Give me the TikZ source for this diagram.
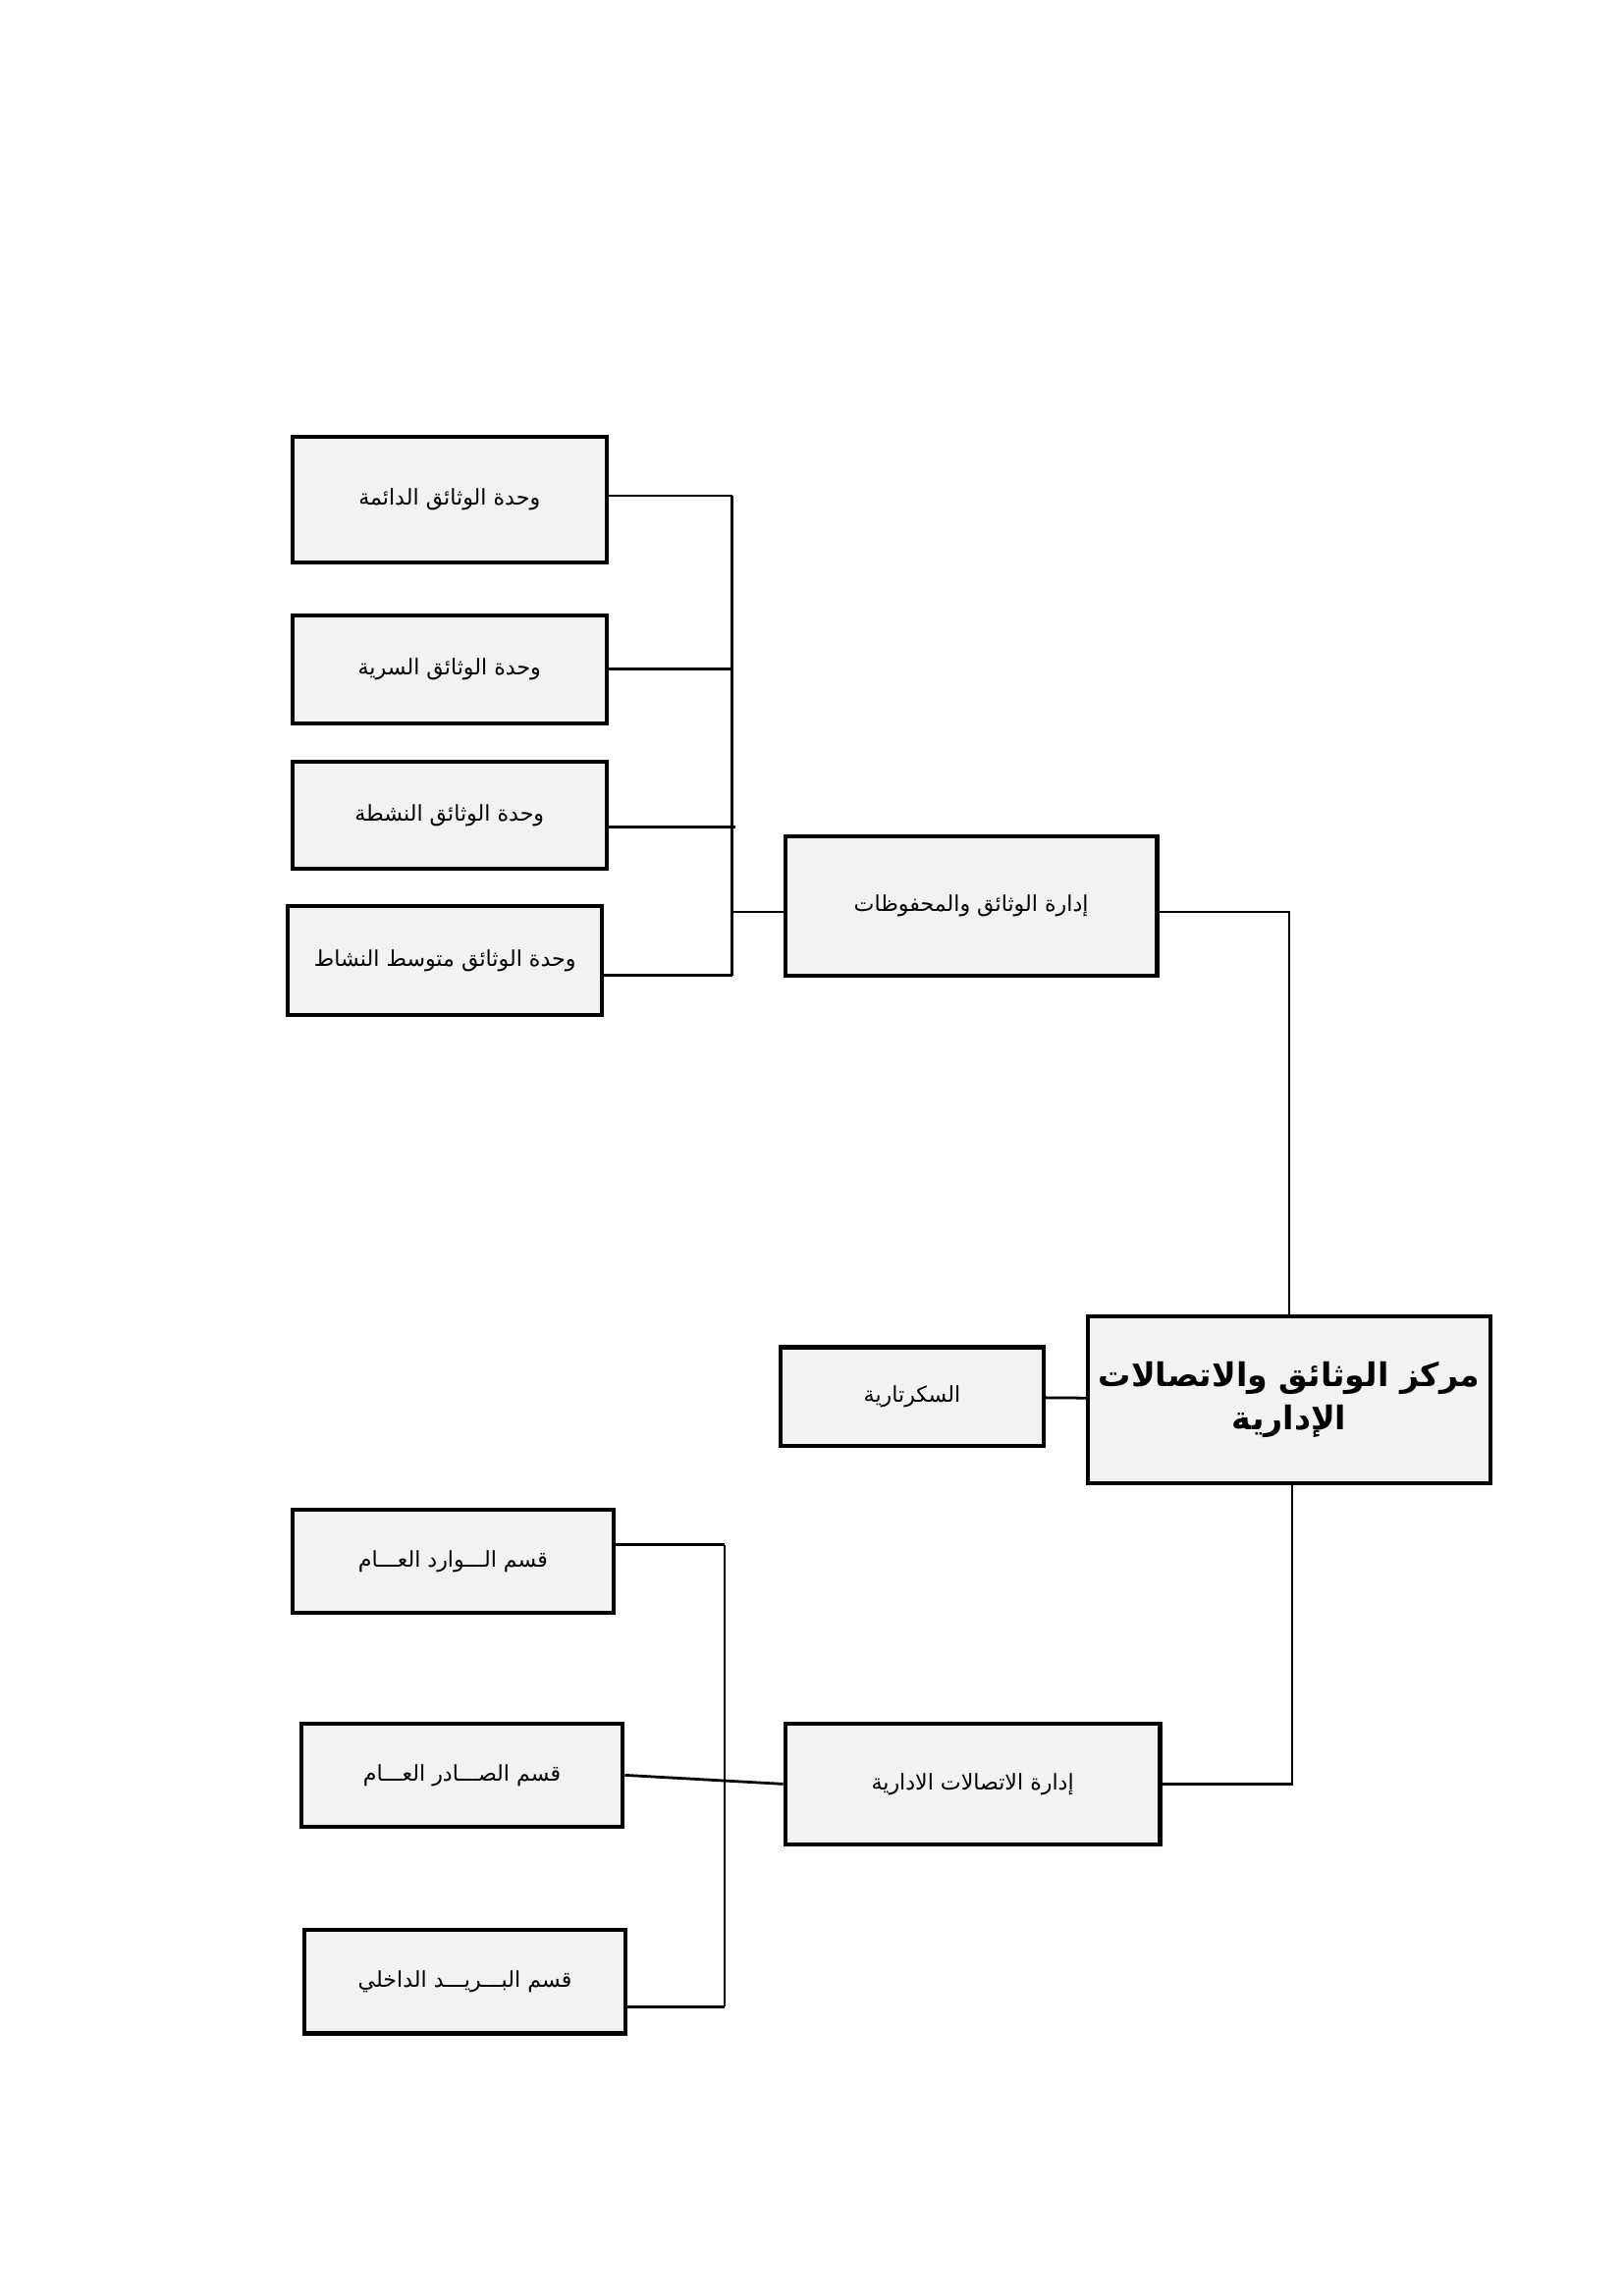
\documentclass[tikz,border=0pt]{standalone}
\usepackage{fontspec}
\newfontfamily\arabicfont[Script=Arabic]{DejaVu Sans}
\TeXXeTstate=1
\newcommand{\ar}[1]{\arabicfont\beginR #1\endR}
\tikzset{
  unitbox/.style={draw, line width=1.5pt, fill=black!5, inner sep=0pt, font=\footnotesize},
  link/.style={line width=1pt},
}
\begin{document}
\begin{tikzpicture}[x=0.0191cm, y=-0.0191cm]
  \useasboundingbox (0,0) rectangle (1100,1556);
  % units of the archives department
  \node (a1) [unitbox, minimum width=213*0.0191cm, minimum height=85*0.0191cm] at (304.5,338.5) {\ar{وحدة الوثائق الدائمة}};
  \node (a2) [unitbox, minimum width=213*0.0191cm, minimum height=73*0.0191cm] at (304.5,453.5) {\ar{وحدة الوثائق السرية}};
  \node (a3) [unitbox, minimum width=213*0.0191cm, minimum height=73*0.0191cm] at (304.5,552.5) {\ar{وحدة الوثائق النشطة}};
  \node (a4) [unitbox, minimum width=213*0.0191cm, minimum height=74*0.0191cm] at (301.5,651) {\ar{وحدة الوثائق متوسط النشاط}};
  \node (m1) [unitbox, minimum width=252*0.0191cm, minimum height=94*0.0191cm] at (658,614) {\ar{إدارة الوثائق والمحفوظات}};
  % centre
  \node (c) [unitbox, minimum width=273*0.0191cm, minimum height=113*0.0191cm, font=\large\bfseries, align=center] at (873.5,948.5) {\ar{مركز الوثائق والاتصالات}\\[2pt] \ar{الإدارية}};
  \node (s) [unitbox, minimum width=178*0.0191cm, minimum height=67*0.0191cm] at (618,946.5) {\ar{السكرتارية}};
  % communications department
  \node (m2) [unitbox, minimum width=254*0.0191cm, minimum height=82*0.0191cm] at (659,1209) {\ar{إدارة الاتصالات الادارية}};
  \node (b1) [unitbox, minimum width=218*0.0191cm, minimum height=70*0.0191cm] at (307,1058) {\ar{قسم الـــوارد العـــام}};
  \node (b2) [unitbox, minimum width=218*0.0191cm, minimum height=70*0.0191cm] at (313,1203) {\ar{قسم الصـــادر العـــام}};
  \node (b3) [unitbox, minimum width=218*0.0191cm, minimum height=70*0.0191cm] at (315,1343) {\ar{قسم البـــريـــد الداخلي}};
  % bus coordinates
  \coordinate (u1) at (496,336);
  \coordinate (u4) at (496,661);
  \coordinate (l1) at (491,1047);
  \coordinate (l3) at (491,1360);
  \draw [link] (u1) -- (u4);
  \draw [link] (a1.east |- u1) -- (u1);
  \draw [link] (a2.east) -- (a2.east -| u1);
  \draw [link] (a3.east) ++(0,8) -- ++(86,0);
  \draw [link] (a4.east) ++(0,10) -- (u4);
  \draw [link] (m1.west) ++(0,4) -- ++(-36,0);
  \draw [link] (m1.east) ++(0,4) -| (c.north);
  \draw [link] (s) -- (c);
  \draw [link] (c.south) ++(2,0) |- (m2.east);
  \draw [link] (l1) -- (l3);
  \draw [link] (b1.east |- l1) -- (l1);
  \draw [link] (b2.east) -- (m2.west);
  \draw [link] (b3.east |- l3) -- (l3);
\end{tikzpicture}
\end{document}
